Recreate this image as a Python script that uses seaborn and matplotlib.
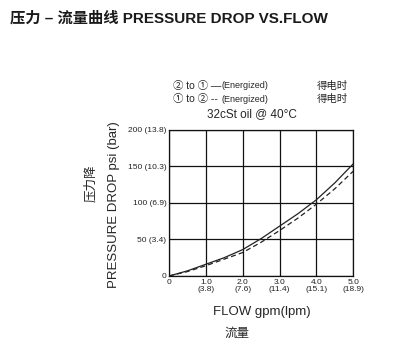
import matplotlib
matplotlib.use("Agg")
import matplotlib.pyplot as plt
import pandas as pd
import seaborn as sns

# flow in gpm, pressure drop in psi
flow_gpm = [0, 0.5, 1.0, 1.5, 2.0, 2.5, 3.0, 3.5, 4.0, 4.5, 5.0]
psi_2to1 = [0, 7, 16, 25, 36, 51, 68, 85, 104, 127, 153]
psi_1to2 = [0, 6, 14, 23, 32, 46, 62, 79, 98, 119, 143]

x_ticks = [0, 1, 2, 3, 4, 5]
x_tick_labels = ["0", "1.0\n(3.8)", "2.0\n(7.6)", "3.0\n(11.4)", "4.0\n(15.1)", "5.0\n(18.9)"]
y_ticks = [0, 50, 100, 150, 200]
y_tick_labels = ["0", "50 (3.4)", "100 (6.9)", "150 (10.3)", "200 (13.8)"]

sns.set_style("white")
plt.rcParams["font.family"] = ["Liberation Sans", "Noto Sans CJK SC"]
cjk = ["Liberation Sans", "Noto Sans CJK SC", "DejaVu Sans"]

df = pd.DataFrame({"flow": flow_gpm * 2,
                   "psi": psi_2to1 + psi_1to2,
                   "dir": ["2to1"] * len(flow_gpm) + ["1to2"] * len(flow_gpm)})

fig = plt.figure(figsize=(3.95, 3.52), dpi=100)
ax = fig.add_axes([0.428, 0.216, 0.466, 0.416])

sns.lineplot(data=df[df["dir"] == "2to1"], x="flow", y="psi", ax=ax,
             color="#222222", linewidth=0.9, linestyle="solid")
sns.lineplot(data=df[df["dir"] == "1to2"], x="flow", y="psi", ax=ax,
             color="#222222", linewidth=0.9, linestyle=(0, (4, 2.5)))

ax.set_xlim(0, 5)
ax.set_ylim(0, 200)
ax.set_xticks(x_ticks)
ax.set_xticklabels(x_tick_labels, fontsize=6, linespacing=1.0)
ax.set_yticks(y_ticks)
ax.set_yticklabels(y_tick_labels, fontsize=6)
ax.tick_params(length=0, pad=2, colors="#222222")
ax.grid(True, color="#111111", linewidth=0.9)
for s in ax.spines.values():
    s.set_color("#111111")
    s.set_linewidth(0.9)
ax.set_xlabel("")
ax.set_ylabel("")

fig.text(10 / 395, 1 - 18 / 352, "压力 – 流量曲线 PRESSURE DROP VS.FLOW",
         fontsize=11, fontweight="bold", family=cjk, color="#1a1a1a", va="center")

# legend notes
fig.text(173 / 395, 1 - 86 / 352, "② to ① —", fontsize=7.5, va="center", family=cjk)
fig.text(222 / 395, 1 - 86 / 352, "(Energized)", fontsize=6.5, va="center")
fig.text(173 / 395, 1 - 99 / 352, "① to ② --", fontsize=7.5, va="center", family=cjk)
fig.text(222 / 395, 1 - 99 / 352, "(Energized)", fontsize=6.5, va="center")
fig.text(317 / 395, 1 - 86 / 352, "得电时", fontsize=7.5, va="center", family=cjk)
fig.text(317 / 395, 1 - 99 / 352, "得电时", fontsize=7.5, va="center", family=cjk)
fig.text(207 / 395, 1 - 114 / 352, "32cSt oil @ 40°C", fontsize=8.5, va="center")

# axis titles
fig.text(114 / 395, 1 - 205 / 352, "PRESSURE DROP psi (bar)", fontsize=9.5,
         rotation=90, ha="center", va="center")
fig.text(91 / 395, 1 - 183 / 352, "压力降", fontsize=9, rotation=90,
         ha="center", va="center", family=cjk)
fig.text(262 / 395, 1 - 312 / 352, "FLOW gpm(lpm)", fontsize=9.5,
         ha="center", va="center")
fig.text(237 / 395, 1 - 334 / 352, "流量", fontsize=9,
         ha="center", va="center", family=cjk)

fig.savefig("out.png", dpi=100)
